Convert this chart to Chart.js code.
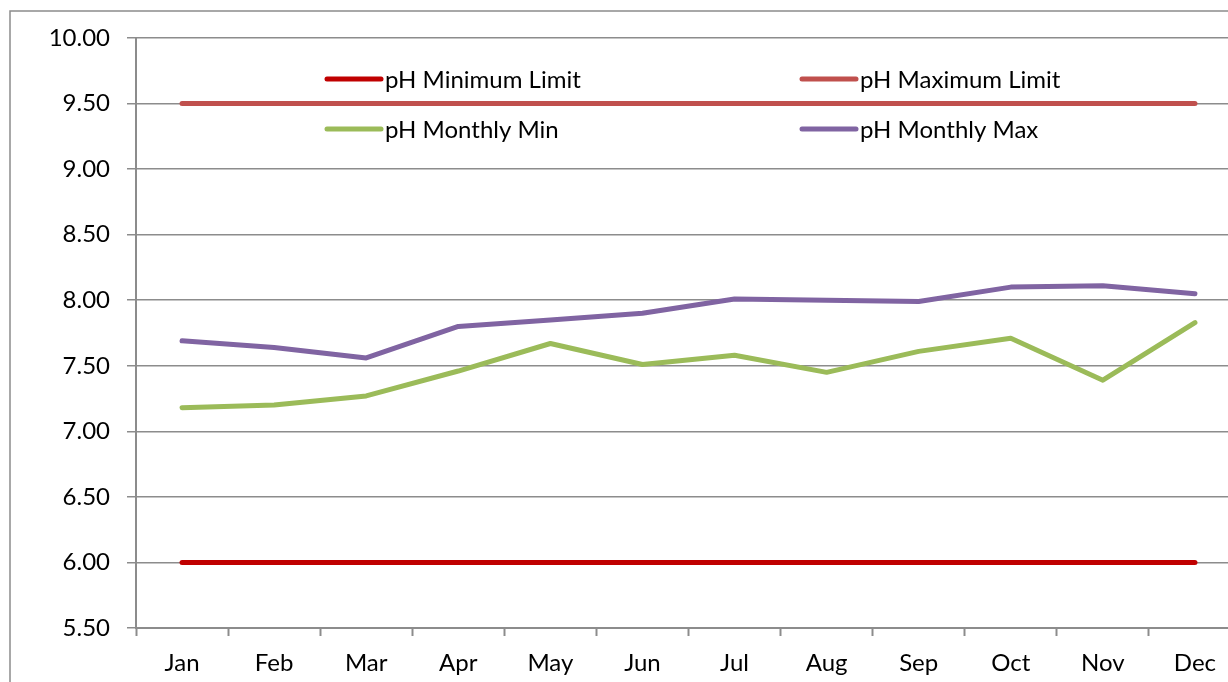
<!DOCTYPE html>
<html>
<head>
<meta charset="utf-8">
<script src="https://cdn.jsdelivr.net/npm/chart.js@4.4.1/dist/chart.umd.min.js"></script>
<style>
  html, body { margin: 0; padding: 0; background: #fff; overflow: hidden; }
  #wrap { position: absolute; left: 0; top: 0; width: 1260px; height: 682px; }
</style>
</head>
<body>
<div id="wrap"><canvas id="grafico"></canvas></div>
<script>
// dados
var meses = ["Jan", "Feb", "Mar", "Apr", "May", "Jun", "Jul", "Aug", "Sep", "Oct", "Nov", "Dec"];
var limiteMin = [6, 6, 6, 6, 6, 6, 6, 6, 6, 6, 6, 6];
var limiteMax = [9.5, 9.5, 9.5, 9.5, 9.5, 9.5, 9.5, 9.5, 9.5, 9.5, 9.5, 9.5];
var mensalMin = [7.18, 7.20, 7.27, 7.46, 7.67, 7.51, 7.58, 7.45, 7.61, 7.71, 7.39, 7.83];
var mensalMax = [7.69, 7.64, 7.56, 7.80, 7.85, 7.90, 8.01, 8.00, 7.99, 8.10, 8.11, 8.05];
var ticksY = [5.5, 6, 6.5, 7, 7.5, 8, 8.5, 9, 9.5, 10];

var fonte = "Lato, 'Open Sans', sans-serif";

// borda da area do grafico (estilo excel)
var borda = {
  id: "borda",
  beforeDraw: function (chart) {
    var ctx = chart.ctx;
    ctx.save();
    ctx.strokeStyle = "#8c8c8c";
    ctx.lineWidth = 1.5;
    ctx.strokeRect(10, 11, 1400, 800);
    ctx.restore();
  }
};

// legenda em duas colunas dentro do grafico
var legenda = {
  id: "legenda",
  afterDraw: function (chart) {
    var ctx = chart.ctx;
    var pos = [[325, 79], [800, 79], [325, 129], [800, 129]];
    ctx.save();
    ctx.font = "24px " + fonte;
    ctx.textBaseline = "middle";
    ctx.textAlign = "left";
    chart.data.datasets.forEach(function (ds, i) {
      var x = pos[i][0], y = pos[i][1];
      ctx.strokeStyle = ds.borderColor;
      ctx.lineWidth = 5;
      ctx.lineCap = "round";
      ctx.beginPath();
      ctx.moveTo(x + 2, y);
      ctx.lineTo(x + 56, y);
      ctx.stroke();
      ctx.fillStyle = "#000";
      ctx.fillText(ds.label, x + 60, y + 1);
    });
    ctx.restore();
  }
};

function serie(label, dados, cor) {
  return {
    label: label,
    data: dados,
    borderColor: cor,
    backgroundColor: cor,
    borderWidth: 5,
    borderCapStyle: "round",
    borderJoinStyle: "round",
    pointRadius: 0,
    tension: 0,
    fill: false
  };
}

var graf = document.getElementById("grafico").getContext("2d");
var grafico = new Chart(graf, {
  type: "line",
  data: {
    labels: meses,
    datasets: [
      serie("pH Minimum Limit", limiteMin, "#C00000"),
      serie("pH Maximum Limit", limiteMax, "#C0504D"),
      serie("pH Monthly Min", mensalMin, "#9BBB59"),
      serie("pH Monthly Max", mensalMax, "#8064A2")
    ]
  },
  options: {
    responsive: true,
    maintainAspectRatio: false,
    animation: false,
    layout: {
      padding: { left: 0, right: 19, top: 38, bottom: 0 }
    },
    plugins: {
      legend: { display: false },
      tooltip: { enabled: false }
    },
    scales: {
      x: {
        offset: true,
        afterFit: function (scale) { scale.height = 682 - 628; },
        grid: {
          offset: true,
          drawOnChartArea: false,
          drawTicks: true,
          tickLength: 8,
          tickWidth: 2,
          tickColor: "#8c8c8c"
        },
        border: { display: true, color: "#8c8c8c", width: 2 },
        ticks: {
          color: "#000",
          padding: 13,
          maxRotation: 0,
          font: { family: fonte, size: 24 }
        }
      },
      y: {
        min: 5.5,
        max: 10,
        afterFit: function (scale) { scale.width = 136; },
        afterBuildTicks: function (scale) {
          scale.ticks = ticksY.map(function (v) { return { value: v }; });
        },
        grid: {
          color: "#8c8c8c",
          lineWidth: 1.5,
          drawTicks: true,
          tickLength: 9
        },
        border: { display: true, color: "#8c8c8c", width: 2 },
        ticks: {
          color: "#000",
          padding: 17,
          font: { family: fonte, size: 24 },
          callback: function (v) { return Number(v).toFixed(2); }
        }
      }
    }
  },
  plugins: [borda, legenda]
});
</script>
</body>
</html>
